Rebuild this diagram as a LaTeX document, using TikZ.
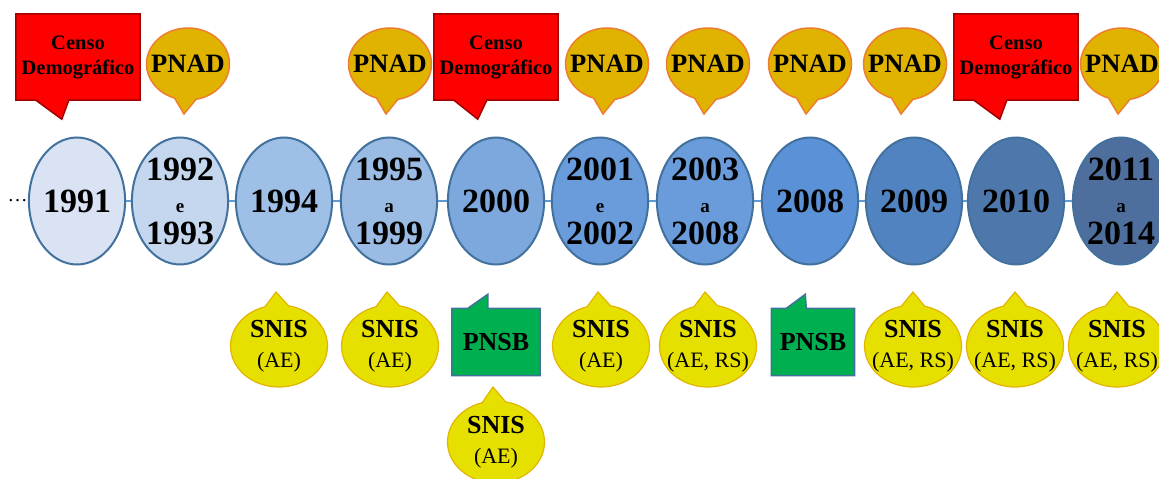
\documentclass[tikz,border=0pt]{standalone}
\usepackage{fontspec}
\setmainfont{Liberation Serif}
\usetikzlibrary{positioning,shapes.geometric,shapes.callouts,backgrounds}

\definecolor{yearline}{HTML}{41719C}
\definecolor{linkblue}{HTML}{5B9BD5}
\definecolor{censoline}{HTML}{A00000}
\definecolor{pnadfill}{HTML}{DFB300}
\definecolor{pnadline}{HTML}{ED7D31}
\definecolor{snisfill}{HTML}{E6E000}
\definecolor{snisline}{HTML}{E2B400}
\definecolor{pnsbfill}{HTML}{00B050}
\definecolor{yr1991}{HTML}{DAE3F3}
\definecolor{yr1992}{HTML}{C5D7EF}
\definecolor{yr1994}{HTML}{9FC0E6}
\definecolor{yr1995}{HTML}{9ABBE3}
\definecolor{yr2000}{HTML}{7DA8DE}
\definecolor{yr2001}{HTML}{6A9CDB}
\definecolor{yr2003}{HTML}{6A9CDB}
\definecolor{yr2008}{HTML}{5B91D6}
\definecolor{yr2009}{HTML}{5283C1}
\definecolor{yr2010}{HTML}{4E78AC}
\definecolor{yr2011}{HTML}{4E6F9E}

\begin{document}
\begin{tikzpicture}[x=1pt,y=-1pt]
\tikzstyle{year} = [ellipse, draw=yearline, line width=2pt, minimum width=96pt, minimum height=127pt, inner sep=0pt, align=center, font=\fontsize{34}{32}\selectfont\bfseries]
\tikzstyle{timeline} = [draw=linkblue, line width=1.5pt]
\tikzstyle{censo} = [rectangle, minimum width=124pt, minimum height=86pt, inner sep=0pt, align=center, font=\fontsize{20.5}{25}\selectfont\bfseries]
\tikzstyle{censobox} = [draw=censoline, fill=red, line width=1.5pt]
\tikzstyle{pnad} = [ellipse callout, draw=pnadline, fill=pnadfill, line width=1.5pt, minimum width=83pt, minimum height=72pt, inner xsep=-8pt, inner ysep=0pt, callout pointer arc=30, font=\fontsize{26.5}{28}\selectfont\bfseries]
\tikzstyle{snis} = [ellipse callout, draw=snisline, fill=snisfill, line width=1.2pt, minimum width=97pt, minimum height=82pt, inner xsep=-8pt, inner ysep=0pt, callout pointer arc=28, align=center, font=\fontsize{22}{30}\selectfont]
\tikzstyle{pnsb} = [rectangle, minimum width=88pt, minimum height=67pt, inner sep=0pt, font=\fontsize{26}{28}\selectfont\bfseries]
\tikzstyle{pnsbbox} = [draw=yearline, fill=pnsbfill, line width=1.5pt]

\useasboundingbox (0,0) rectangle (1159,479);
\clip (0,0) rectangle (1159,479);

% timeline of years
\node[year, fill=yr1991] (y1991) at (77,201) {1991};
\node[year, fill=yr1992] (y1992) at (180,201) {1992\\{\fontsize{19}{32}\selectfont e}\\1993};
\node[year, fill=yr1994] (y1994) at (284,201) {1994};
\node[year, fill=yr1995] (y1995) at (389,201) {1995\\{\fontsize{19}{32}\selectfont a}\\1999};
\node[year, fill=yr2000] (y2000) at (496,201) {2000};
\node[year, fill=yr2001] (y2001) at (600,201) {2001\\{\fontsize{19}{32}\selectfont e}\\2002};
\node[year, fill=yr2003] (y2003) at (705,201) {2003\\{\fontsize{19}{32}\selectfont a}\\2008};
\node[year, fill=yr2008] (y2008) at (810,201) {2008};
\node[year, fill=yr2009] (y2009) at (914,201) {2009};
\node[year, fill=yr2010] (y2010) at (1016,201) {2010};
\node[year, fill=yr2011] (y2011) at (1121,201) {2011\\{\fontsize{19}{32}\selectfont a}\\2014};
\node[left=0pt of y1991, inner sep=0pt, font=\fontsize{20}{20}\selectfont] (more) {\ldots};

\draw[timeline] (y1991) -- (y1992);
\draw[timeline] (y1992) -- (y1994);
\draw[timeline] (y1994) -- (y1995);
\draw[timeline] (y1995) -- (y2000);
\draw[timeline] (y2000) -- (y2001);
\draw[timeline] (y2001) -- (y2003);
\draw[timeline] (y2003) -- (y2008);
\draw[timeline] (y2008) -- (y2009);
\draw[timeline] (y2009) -- (y2010);
\draw[timeline] (y2010) -- (y2011);

% surveys above
\node[censo] (cd1991) at (78,57) {Censo\\Demográfico};
\node[censo] (cd2000) at (496,57) {Censo\\Demográfico};
\node[censo] (cd2010) at (1016,57) {Censo\\Demográfico};
\begin{pgfonlayer}{background}
\draw[censobox] (cd1991.north west) -- (cd1991.north east) -- (cd1991.south east) -- ([xshift=53pt]cd1991.south west) -- ([xshift=46pt,yshift=-19pt]cd1991.south west) -- ([xshift=20pt]cd1991.south west) -- (cd1991.south west) -- cycle;
\draw[censobox] (cd2000.north west) -- (cd2000.north east) -- (cd2000.south east) -- ([xshift=53pt]cd2000.south west) -- ([xshift=44pt,yshift=-19pt]cd2000.south west) -- ([xshift=20pt]cd2000.south west) -- (cd2000.south west) -- cycle;
\draw[censobox] (cd2010.north west) -- (cd2010.north east) -- (cd2010.south east) -- ([xshift=53pt]cd2010.south west) -- ([xshift=46pt,yshift=-19pt]cd2010.south west) -- ([xshift=20pt]cd2010.south west) -- (cd2010.south west) -- cycle;
\end{pgfonlayer}

\node[pnad, callout absolute pointer={(184,114)}] (p1992) at (188,64) {PNAD};
\node[pnad, callout absolute pointer={(386,114)}] (p1995) at (390,64) {PNAD};
\node[pnad, callout absolute pointer={(603,114)}] (p2001) at (607,64) {PNAD};
\node[pnad, callout absolute pointer={(704,114)}] (p2003) at (708,64) {PNAD};
\node[pnad, callout absolute pointer={(806,114)}] (p2008) at (810,64) {PNAD};
\node[pnad, callout absolute pointer={(901,114)}] (p2009) at (905,64) {PNAD};
\node[pnad, callout absolute pointer={(1118,114)}] (p2011) at (1122,64) {PNAD};

% surveys below
\node[snis, callout absolute pointer={(276,292)}] (s1994) at (279,346) {{\fontsize{26}{30}\selectfont\bfseries SNIS}\\(AE)};
\node[snis, callout absolute pointer={(387,292)}] (s1995) at (390,346) {{\fontsize{26}{30}\selectfont\bfseries SNIS}\\(AE)};
\node[snis, callout absolute pointer={(493,387)}] (s2000) at (496,442) {{\fontsize{26}{30}\selectfont\bfseries SNIS}\\(AE)};
\node[snis, callout absolute pointer={(598,292)}] (s2001) at (601,346) {{\fontsize{26}{30}\selectfont\bfseries SNIS}\\(AE)};
\node[snis, callout absolute pointer={(705,292)}] (s2003) at (708,346) {{\fontsize{26}{30}\selectfont\bfseries SNIS}\\(AE, RS)};
\node[snis, callout absolute pointer={(913,292)}] (s2009) at (913,346) {{\fontsize{26}{30}\selectfont\bfseries SNIS}\\(AE, RS)};
\node[snis, callout absolute pointer={(1015,292)}] (s2010) at (1015,346) {{\fontsize{26}{30}\selectfont\bfseries SNIS}\\(AE, RS)};
\node[snis, callout absolute pointer={(1117,292)}] (s2011) at (1117,346) {{\fontsize{26}{30}\selectfont\bfseries SNIS}\\(AE, RS)};

\node[pnsb] (n2000) at (496,342) {PNSB};
\node[pnsb, minimum width=83pt] (n2008) at (813,342) {PNSB};
\begin{pgfonlayer}{background}
\draw[pnsbbox] (n2000.north west) -- ([xshift=16pt]n2000.north west) -- ([xshift=36pt,yshift=14pt]n2000.north west) -- ([xshift=36pt]n2000.north west) -- (n2000.north east) -- (n2000.south east) -- (n2000.south west) -- cycle;
\draw[pnsbbox] (n2008.north west) -- ([xshift=15pt]n2008.north west) -- ([xshift=34pt,yshift=14pt]n2008.north west) -- ([xshift=35pt]n2008.north west) -- (n2008.north east) -- (n2008.south east) -- (n2008.south west) -- cycle;
\end{pgfonlayer}
\end{tikzpicture}
\end{document}
